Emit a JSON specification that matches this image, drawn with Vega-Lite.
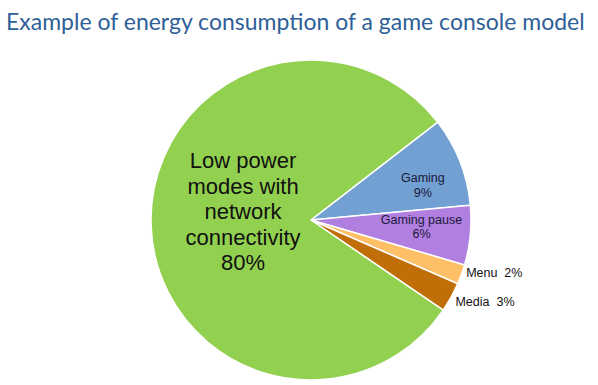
{
  "$schema": "https://vega.github.io/schema/vega-lite/v6.json",
  "width": 574,
  "height": 330,
  "autosize": "none",
  "padding": {"left": 24, "top": 55, "right": 0, "bottom": 0},
  "background": "white",
  "title": {
    "text": "Example of energy consumption of a game console model",
    "anchor": "start",
    "frame": "group",
    "dx": -18,
    "offset": 20,
    "font": "Lato",
    "fontSize": 23,
    "fontWeight": "normal",
    "color": "#2f5f98"
  },
  "data": {
    "values": [
      {"cat": "Gaming", "v": 9, "o": 1, "label": "Gaming\n9%"},
      {"cat": "Gaming pause", "v": 6, "o": 2, "label": "Gaming pause\n6%"},
      {"cat": "Menu", "v": 2, "o": 3, "label": "Menu\u00a0\u00a02%"},
      {"cat": "Media", "v": 3, "o": 4, "label": "Media\u00a0\u00a03%"},
      {"cat": "Low power", "v": 80, "o": 5, "label": "Low power\nmodes with\nnetwork\nconnectivity\n80%"}
    ]
  },
  "encoding": {
    "theta": {"field": "v", "type": "quantitative", "stack": true, "scale": {"range": [0.9128, 7.196]}},
    "order": {"field": "o", "type": "ordinal"}
  },
  "layer": [
    {
      "mark": {"type": "arc", "outerRadius": 160, "stroke": "white", "strokeWidth": 1.5},
      "encoding": {
        "color": {
          "field": "cat", "type": "nominal", "legend": null,
          "scale": {
            "domain": ["Gaming", "Gaming pause", "Menu", "Media", "Low power"],
            "range": ["#72a0d2", "#b07fe0", "#ffbf66", "#c06f08", "#92d050"]
          }
        }
      }
    },
    {
      "mark": {"type": "text", "radius": 68, "dy": -61, "font": "Liberation Sans", "fontSize": 22, "lineHeight": 25.5, "lineBreak": "\n", "color": "#111111", "baseline": "middle", "align": "center"},
      "encoding": {"text": {"condition": {"test": "datum.cat == 'Low power'", "field": "label"}, "value": ""}}
    },
    {
      "mark": {"type": "text", "radius": 117, "dx": 3, "dy": 1, "font": "Liberation Sans", "fontSize": 12.5, "lineHeight": 14.5, "lineBreak": "\n", "color": "#1a1a3a", "baseline": "middle", "align": "center"},
      "encoding": {"text": {"condition": {"test": "datum.cat == 'Gaming'", "field": "label"}, "value": ""}}
    },
    {
      "mark": {"type": "text", "radius": 111, "dy": -11, "font": "Liberation Sans", "fontSize": 12.5, "lineHeight": 14.5, "lineBreak": "\n", "color": "#1a1a3a", "baseline": "middle", "align": "center"},
      "encoding": {"text": {"condition": {"test": "datum.cat == 'Gaming pause'", "field": "label"}, "value": ""}}
    },
    {
      "mark": {"type": "text", "radius": 165, "dy": -3, "font": "Liberation Sans", "fontSize": 12.5, "color": "#111111", "baseline": "middle", "align": "left"},
      "encoding": {"text": {"condition": {"test": "datum.cat == 'Menu'", "field": "label"}, "value": ""}}
    },
    {
      "mark": {"type": "text", "radius": 165, "dy": 2, "font": "Liberation Sans", "fontSize": 12.5, "color": "#111111", "baseline": "middle", "align": "left"},
      "encoding": {"text": {"condition": {"test": "datum.cat == 'Media'", "field": "label"}, "value": ""}}
    }
  ],
  "config": {"view": {"stroke": null}}
}
